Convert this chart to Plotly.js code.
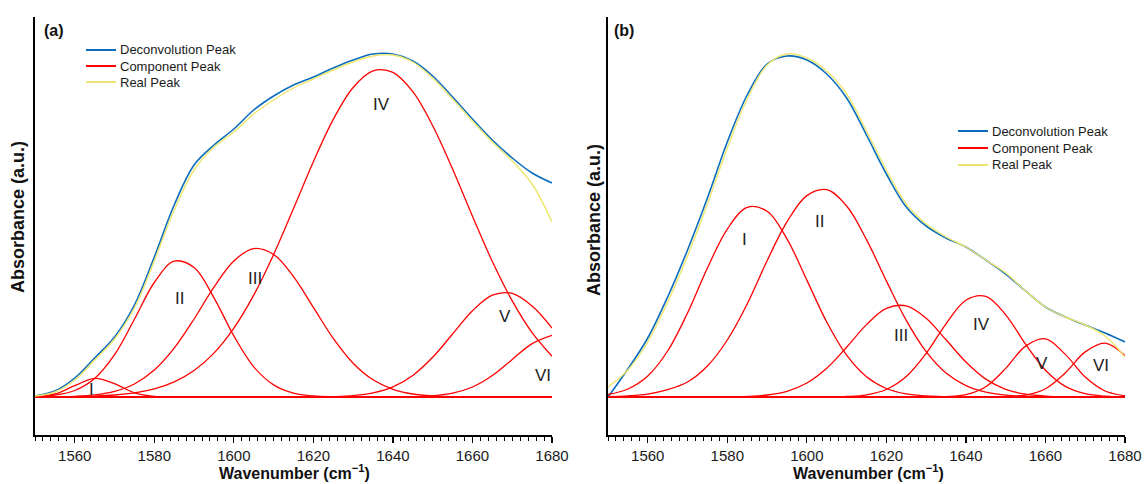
<!DOCTYPE html>
<html>
<head>
<meta charset="utf-8">
<script src="https://cdn.plot.ly/plotly-3.0.1.min.js"></script>
<style>html,body{margin:0;padding:0;background:#fff;}#chart{width:1147px;height:484px;}</style>
</head>
<body>
<div id="chart"></div>
<script>
// ---------- DATA ----------
const wavenumber = [1550,1555,1560,1565,1570,1575,1580,1585,1590,1595,1600,1605,1610,1615,1620,1625,1630,1635,1640,1645,1650,1655,1660,1665,1670,1675,1680];

// Panel (a)
const a_deconvolution = [0.01,0.06,0.19,0.39,0.60,0.92,1.40,1.92,2.32,2.52,2.68,2.87,3.01,3.12,3.20,3.29,3.37,3.43,3.43,3.36,3.21,3.00,2.78,2.57,2.39,2.24,2.14];
const a_real = [0.01,0.05,0.17,0.37,0.58,0.89,1.36,1.87,2.27,2.50,2.65,2.83,2.97,3.09,3.18,3.27,3.35,3.41,3.42,3.35,3.19,2.98,2.76,2.55,2.36,2.13,1.75];
const a_I   = [0.004,0.030,0.113,0.186,0.134,0.042,0.006,0,0,0,0,0,0,0,0,0,0,0,0,0,0,0,0,0,0,0,0];
const a_II  = [0.004,0.018,0.065,0.185,0.423,0.777,1.145,1.358,1.295,0.992,0.611,0.302,0.121,0.038,0.010,0.002,0,0,0,0,0,0,0,0,0,0,0];
const a_III = [0.001,0.002,0.007,0.021,0.056,0.130,0.269,0.488,0.780,1.099,1.361,1.484,1.425,1.204,0.896,0.586,0.338,0.172,0.077,0.030,0.010,0.003,0.001,0,0,0,0];
const a_IV  = [0.001,0.002,0.004,0.009,0.020,0.041,0.081,0.151,0.265,0.439,0.689,1.019,1.426,1.885,2.353,2.776,3.095,3.261,3.246,3.053,2.713,2.280,1.808,1.355,0.961,0.643,0.407];
const a_V   = [0,0,0,0,0,0,0,0,0,0,0,0,0,0,0.001,0.004,0.014,0.041,0.101,0.216,0.397,0.630,0.862,1.018,1.036,0.909,0.689];
const a_VI  = [0,0,0,0,0,0,0,0,0,0,0,0,0,0,0,0,0,0,0.001,0.003,0.012,0.038,0.100,0.215,0.376,0.534,0.617];

// Panel (b)
const b_deconvolution = [0.00,0.28,0.59,1.00,1.47,1.99,2.55,3.02,3.33,3.41,3.37,3.23,2.99,2.62,2.23,1.90,1.71,1.59,1.50,1.37,1.23,1.06,0.90,0.80,0.72,0.64,0.55];
const b_real = [0.10,0.27,0.55,0.95,1.41,1.93,2.49,2.98,3.32,3.43,3.39,3.26,3.03,2.66,2.27,1.93,1.73,1.60,1.50,1.37,1.24,1.06,0.90,0.80,0.72,0.61,0.40];
const b_I   = [0.025,0.08,0.21,0.46,0.84,1.29,1.679,1.896,1.858,1.582,1.169,0.750,0.418,0.202,0.085,0.031,0.010,0.003,0.001,0,0,0,0,0,0,0,0];
const b_II  = [0.003,0.011,0.029,0.073,0.150,0.310,0.570,0.930,1.362,1.751,2.014,2.073,1.910,1.574,1.161,0.766,0.453,0.239,0.113,0.048,0.018,0.006,0.002,0.001,0,0,0];
const b_III = [0,0,0,0,0,0,0.001,0.006,0.020,0.057,0.140,0.288,0.498,0.724,0.886,0.911,0.787,0.572,0.350,0.179,0.077,0.028,0.009,0.002,0.001,0,0];
const b_IV  = [0,0,0,0,0,0,0,0,0,0,0,0.001,0.005,0.022,0.075,0.204,0.435,0.732,0.968,1.006,0.822,0.528,0.267,0.106,0.033,0.008,0.002];
const b_V   = [0,0,0,0,0,0,0,0,0,0,0,0,0,0,0,0,0,0.004,0.024,0.103,0.286,0.509,0.582,0.426,0.200,0.060,0.012];
const b_VI  = [0,0,0,0,0,0,0,0,0,0,0,0,0,0,0,0,0,0,0,0,0.003,0.018,0.083,0.242,0.451,0.539,0.413];

const peakNames = ['I','II','III','IV','V','VI'];
const xTicks = [1560,1580,1600,1620,1640,1660,1680];
const seriesNames = ['Deconvolution Peak','Component Peak','Real Peak'];

// ---------- STYLE ----------
const FONT = 'Arial, "Liberation Sans", Helvetica, sans-serif';
const BLUE = '#0a6cbd', RED = '#ff0000', YELLOW = '#ede66e';
const seriesColors = [BLUE, RED, YELLOW];

function panelTraces(xa, ya, decon, real, comps) {
  const t = [];
  t.push({x: wavenumber, y: decon, xaxis: xa, yaxis: ya, type: 'scatter', mode: 'lines',
          name: seriesNames[0], showlegend: false, line: {color: BLUE, width: 1.6, shape: 'spline', smoothing: 1}});
  comps.forEach((c, i) => {
    t.push({x: wavenumber, y: c, xaxis: xa, yaxis: ya, type: 'scatter', mode: 'lines',
            name: seriesNames[1] + ' ' + peakNames[i], showlegend: false,
            line: {color: RED, width: 1.3, shape: 'spline', smoothing: 1}});
  });
  t.push({x: wavenumber, y: real, xaxis: xa, yaxis: ya, type: 'scatter', mode: 'lines',
          name: seriesNames[2], showlegend: false, line: {color: YELLOW, width: 1.4, shape: 'spline', smoothing: 1}});
  return t;
}

const traces = [].concat(
  panelTraces('x', 'y', a_deconvolution, a_real, [a_I, a_II, a_III, a_IV, a_V, a_VI]),
  panelTraces('x2', 'y2', b_deconvolution, b_real, [b_I, b_II, b_III, b_IV, b_V, b_VI])
);

const W = 1147, H = 484;
const yDom = [1 - 435 / H, 1 - 17 / H];
function xAxis(dom, anchor) {
  return {domain: dom, anchor: anchor, range: [1550, 1680], tickmode: 'array', tickvals: xTicks,
          ticktext: xTicks.map(String), ticks: 'outside', ticklen: 6, tickwidth: 1.2, tickcolor: '#000',
          showline: true, linecolor: '#000', linewidth: 1.5, showgrid: false, zeroline: false,
          tickfont: {family: FONT, size: 15, color: '#1a1a1a'},
          minor: {ticks: 'outside', tickmode: 'linear', tick0: 1550, dtick: 2, ticklen: 4, tickwidth: 1, tickcolor: '#000', showgrid: false}};
}
function yAxis(anchor) {
  return {domain: yDom, anchor: anchor, range: [-0.38, 3.80], showline: true, linecolor: '#000', linewidth: 2,
          showticklabels: false, ticks: '', showgrid: false, zeroline: true, zerolinecolor: RED, zerolinewidth: 2.6};
}

// label placements (data coords of panel)
const labelPosA = [[1564.1,0.08],[1586.4,0.99],[1605.3,1.19],[1637.1,2.93],[1668.3,0.81],[1677.7,0.22]];
const labelPosB = [[1584.3,1.58],[1603.3,1.76],[1623.6,0.62],[1643.9,0.73],[1659.2,0.34],[1674.0,0.32]];

const annotations = [];
const shapes = [];
peakNames.forEach((n, i) => {
  annotations.push({text: n, x: labelPosA[i][0], y: labelPosA[i][1], xref: 'x', yref: 'y', showarrow: false,
                    font: {family: FONT, size: 17, color: '#222'}, xanchor: 'center', yanchor: 'middle'});
  annotations.push({text: n, x: labelPosB[i][0], y: labelPosB[i][1], xref: 'x2', yref: 'y2', showarrow: false,
                    font: {family: FONT, size: 17, color: '#222'}, xanchor: 'center', yanchor: 'middle'});
});
const paperText = (text, px, py, opts) => Object.assign({text: text, x: px / W, y: 1 - py / H, xref: 'paper', yref: 'paper',
  showarrow: false, xanchor: 'center', yanchor: 'middle', font: {family: FONT, size: 16, color: '#111'}}, opts || {});
annotations.push(paperText('<b>Wavenumber (cm<sup>−1</sup>)</b>', 294, 472));
annotations.push(paperText('<b>Wavenumber (cm<sup>−1</sup>)</b>', 868, 472));
annotations.push(paperText('<b>Absorbance (a.u.)</b>', 18, 217, {textangle: -90, font: {family: FONT, size: 18, color: '#111'}}));
annotations.push(paperText('<b>Absorbance (a.u.)</b>', 594, 220, {textangle: -90, font: {family: FONT, size: 18, color: '#111'}}));
annotations.push(paperText('<b>(a)</b>', 42, 30, {xanchor: 'left'}));
annotations.push(paperText('<b>(b)</b>', 612, 30, {xanchor: 'left'}));

// legends (drawn as key lines + text)
function addLegend(x0, y0, gap) {
  seriesNames.forEach((name, i) => {
    const yy = y0 + i * gap;
    shapes.push({type: 'line', xref: 'paper', yref: 'paper', x0: x0 / W, x1: (x0 + 30) / W,
                 y0: 1 - yy / H, y1: 1 - yy / H, line: {color: seriesColors[i], width: 2}});
    annotations.push(paperText(name, x0 + 32, yy, {xanchor: 'left', font: {family: FONT, size: 13, color: '#1a1a1a'}}));
  });
}
addLegend(86, 50, 16);
addLegend(958, 131, 17);

const layout = {
  width: W, height: H, margin: {l: 0, r: 0, t: 0, b: 0},
  paper_bgcolor: '#fff', plot_bgcolor: 'rgba(0,0,0,0)',
  font: {family: FONT},
  showlegend: false,
  xaxis: xAxis([35 / W, 552 / W], 'y'),
  yaxis: yAxis('x'),
  xaxis2: xAxis([608 / W, 1125 / W], 'y2'),
  yaxis2: yAxis('x2'),
  annotations: annotations,
  shapes: shapes
};

Plotly.newPlot('chart', traces, layout, {displayModeBar: false, staticPlot: true});
</script>
</body>
</html>
